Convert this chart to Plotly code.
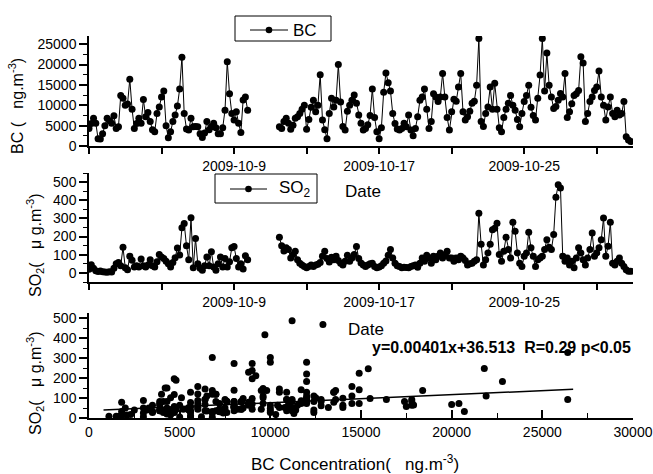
import pandas as pd
import plotly.graph_objects as go

# ---------------- data (3-hourly, 2009-10-01 00:00 .. 2009-10-31 21:00) ----------------
START = "2009-10-01 00:00"
N_STEPS = 248
GAP = [None] * 13

bc = [
    4300, 5500, 6800, 5600, 1800, 1700, 3000, 5000,
    6800, 6200, 5600, 7400, 4300, 4700, 12400, 11700,
    10000, 10300, 16400, 9000, 4300, 5500, 6800, 5600,
    11400, 7200, 8200, 6000, 4000, 3500, 8000, 9600,
    12000, 13500, 5000, 2000, 3500, 6000, 7600, 9800,
    14000, 21800, 8000, 4200, 3900, 6800, 4700, 4800,
    4700, 3000, 2100, 3200, 6000, 4000, 4700, 5600,
    4500, 3000, 3000, 4500, 8800, 20700, 12800, 8000,
    6400, 8400, 5600, 3300, 11300, 12000, 8800,
] + GAP + [
    4700, 4300, 6000, 6800,
    5600, 4100, 5100, 6800, 7200, 8000, 9000, 10000,
    4100, 6500, 9500, 11200, 8400, 10000, 17500, 6400,
    4000, 1800, 8000, 11700, 9600, 11200, 20000, 10800,
    4800, 3900, 8500, 10000, 11200, 12500, 10500, 7600,
    5600, 3900, 4300, 5200, 7500, 14000, 7000, 3500,
    1800, 4500, 13200, 17900, 15500, 13500, 8000, 5500,
    4200, 3900, 4300, 5600, 4700, 7600, 3900, 2500,
    4300, 7200, 11200, 12000, 14000, 9000, 4300, 6000,
    12800, 12000, 10900, 12000, 17800, 12000, 7000, 3900,
    8400, 11500, 11000, 14500, 17800, 8400, 6400, 7200,
    8500, 10500, 11000, 14900, 26400, 6000, 4800, 8000,
    9600, 14500, 9000, 15400, 9000, 4500, 3500, 7000,
    9000, 10500, 12400, 10000, 8800, 6500, 4700, 8000,
    10900, 12400, 14900, 9500, 7500, 6400, 11700, 17400,
    26400, 13500, 22800, 14900, 12000, 9200, 9700, 11200,
    12900, 12000, 17800, 7000, 8400, 10400, 12400, 12800,
    13600, 21900, 20400, 6000, 8000, 10900, 12000, 13600,
    14500, 18400, 12000, 10000, 6400, 9600, 12000, 8000,
    7200, 8800, 7600, 8000, 10900, 2300, 1500, 1100,
]

so2 = [
    20, 45, 25, 12, 8, 10, 6, 5,
    4, 6, 5, 25, 50, 58, 40, 141,
    28, 17, 92, 70, 33, 40, 33, 77,
    40, 33, 44, 73, 40, 33, 61, 101,
    88, 79, 64, 50, 33, 57, 84, 137,
    99, 248, 272, 150, 72, 303, 28, 189,
    50, 25, 15, 40, 88, 40, 117, 33,
    15, 50, 88, 33, 79, 33, 61, 139,
    145, 79, 33, 50, 22, 95, 72,
] + GAP + [
    196, 150, 120, 138,
    129, 82, 101, 119, 72, 53, 44, 36,
    28, 35, 44, 36, 44, 48, 57, 92,
    119, 79, 60, 86, 72, 92, 68, 53,
    44, 64, 97, 64, 82, 101, 145, 80,
    55, 44, 36, 44, 50, 53, 36, 28,
    32, 40, 53, 65, 97, 129, 82, 53,
    40, 36, 28, 31, 30, 28, 36, 40,
    44, 31, 53, 82, 64, 97, 82, 53,
    92, 72, 92, 110, 82, 100, 119, 82,
    82, 64, 82, 72, 92, 82, 68, 44,
    50, 53, 64, 72, 328, 158, 44, 72,
    110, 158, 237, 246, 273, 101, 64, 119,
    196, 129, 82, 279, 229, 110, 53, 36,
    92, 110, 224, 138, 92, 36, 72, 82,
    92, 129, 183, 141, 129, 211, 416, 486,
    468, 92, 64, 82, 44, 64, 28, 82,
    138, 110, 72, 44, 82, 129, 220, 92,
    110, 138, 183, 302, 92, 147, 279, 53,
    44, 64, 82, 53, 36, 18, 9, 9,
]

# linear fit stated on the chart
FIT_SLOPE = 0.00401
FIT_INTERCEPT = 36.513
FIT_X = [800, 26700]
EQUATION = "y=0.00401x+36.513  R=0.29 p&lt;0.05"

DATE_LABEL_TICKS = ["2009-10-09", "2009-10-17", "2009-10-25"]
DATE_TICKTEXT = ["2009-10-9", "2009-10-17", "2009-10-25"]
DATE_RANGE = ["2009-10-01", "2009-10-31"]
BC_TICKS = [0, 5000, 10000, 15000, 20000, 25000]
SO2_TICKS = [0, 100, 200, 300, 400, 500]
BCX_TICKS = [0, 5000, 10000, 15000, 20000, 25000, 30000]

# ---------------------------------------------------------------------------------------
times = pd.date_range(START, periods=N_STEPS, freq="3h")
pairs = [(b, s) for b, s in zip(bc, so2) if b is not None and s is not None]
sc_x = [p[0] for p in pairs]
sc_y = [p[1] for p in pairs]
fit_y = [FIT_SLOPE * x + FIT_INTERCEPT for x in FIT_X]

FONT = "Arial, 'Liberation Sans', sans-serif"
W, H = 653, 474
MS = 7


def px_x(p):
    return p / W


def px_y(p):
    return 1 - p / H


fig = go.Figure()
fig.add_trace(go.Scatter(
    x=times, y=bc, mode="lines+markers", name="BC", showlegend=False,
    line=dict(color="black", width=1), marker=dict(color="black", size=MS),
    connectgaps=False, xaxis="x", yaxis="y"))
fig.add_trace(go.Scatter(
    x=times, y=so2, mode="lines+markers", name="SO<sub>2</sub>", showlegend=False,
    line=dict(color="black", width=1), marker=dict(color="black", size=MS),
    connectgaps=False, xaxis="x2", yaxis="y2"))
fig.add_trace(go.Scatter(
    x=sc_x, y=sc_y, mode="markers", showlegend=False,
    marker=dict(color="black", size=MS), xaxis="x3", yaxis="y3"))
fig.add_trace(go.Scatter(
    x=FIT_X, y=fit_y, mode="lines", showlegend=False,
    line=dict(color="black", width=1.5), xaxis="x3", yaxis="y3"))

xdom = [px_x(89), px_x(633)]
base = dict(showline=True, linecolor="black", linewidth=1.5, showgrid=False,
            zeroline=False, tickcolor="black", tickwidth=1.5, automargin=False,
            tickfont=dict(family=FONT, size=14, color="black"))
yfont = dict(family=FONT, size=14, color="black")
minor_y = dict(ticks="outside", ticklen=4, tickcolor="black", tickwidth=1.2, showgrid=False)
minor_date = dict(ticks="outside", ticklen=6, tickcolor="black", tickwidth=1.5,
                  showgrid=False, tick0="2009-10-01", dtick=4 * 86400000)


def date_axis(anchor):
    d = dict(base)
    d.update(domain=xdom, anchor=anchor, type="date", range=DATE_RANGE,
             tickmode="array", tickvals=DATE_LABEL_TICKS, ticktext=DATE_TICKTEXT,
             ticks="outside", ticklen=6, minor=minor_date)
    return d


def value_axis(anchor, dom, rng, vals, mdt):
    d = dict(base)
    d.update(domain=dom, anchor=anchor, range=rng, tickmode="array", tickvals=vals,
             ticktext=[str(v) for v in vals], ticks="outside", ticklen=8,
             minor=dict(dtick=mdt, **minor_y), tickfont=yfont)
    return d


xaxis3 = dict(base)
xaxis3.update(domain=xdom, anchor="y3", range=[0, 30000], tickmode="array",
              tickvals=BCX_TICKS, ticktext=[str(v) for v in BCX_TICKS],
              ticks="inside", ticklen=8,
              minor=dict(dtick=2500, ticks="inside", ticklen=5, tickcolor="black",
                         tickwidth=1.2))

fig.update_layout(
    width=W, height=H, margin=dict(l=0, r=0, t=0, b=0),
    paper_bgcolor="white", plot_bgcolor="white",
    font=dict(family=FONT, color="black"), showlegend=False,
    xaxis=date_axis("y"),
    yaxis=value_axis("x", [px_y(146), px_y(36)], [0, 27000], BC_TICKS, 2500),
    xaxis2=date_axis("y2"),
    yaxis2=value_axis("x2", [px_y(282), px_y(173)], [-50, 550], SO2_TICKS, 50),
    xaxis3=xaxis3,
    yaxis3=value_axis("x3", [px_y(418), px_y(313)], [0, 525], SO2_TICKS, 50),
)

# ---- legend boxes (drawn) ----
shapes = []
ann = []


def legend_box(x0, x1, y0, y1, lx0, lx1, ly, label, tx):
    shapes.append(dict(type="rect", xref="paper", yref="paper",
                       x0=px_x(x0), x1=px_x(x1), y0=px_y(y1), y1=px_y(y0),
                       line=dict(color="black", width=1), fillcolor="white"))
    shapes.append(dict(type="line", xref="paper", yref="paper",
                       x0=px_x(lx0), x1=px_x(lx1), y0=px_y(ly), y1=px_y(ly),
                       line=dict(color="black", width=1)))
    cx = (lx0 + lx1) / 2
    r = 3.3
    shapes.append(dict(type="circle", xref="paper", yref="paper",
                       x0=px_x(cx - r), x1=px_x(cx + r), y0=px_y(ly + r), y1=px_y(ly - r),
                       line=dict(color="black", width=0), fillcolor="black"))
    ann.append(dict(text=label, x=px_x(tx), y=px_y(ly), xanchor="left", font=dict(size=17)))


legend_box(235, 331, 16, 41, 250, 288, 30, "BC", 291)
legend_box(215, 317, 174, 203, 230, 267, 189, "SO<sub>2</sub>", 277)

ann.append(dict(text="BC (   ng.m<sup>-3</sup>)", x=px_x(16), y=px_y(106), textangle=-90,
                font=dict(size=16)))
ann.append(dict(text="SO<sub>2</sub>(   μ g.m<sup>-3</sup>)", x=px_x(35), y=px_y(245),
                textangle=-90, font=dict(size=16)))
ann.append(dict(text="SO<sub>2</sub>(   μ g.m<sup>-3</sup>)", x=px_x(35), y=px_y(383),
                textangle=-90, font=dict(size=16)))
ann.append(dict(text="Date", x=px_x(343), y=px_y(192), xanchor="left", font=dict(size=17)))
ann.append(dict(text="Date", x=px_x(346), y=px_y(329), xanchor="left", font=dict(size=17)))
ann.append(dict(text="<b>" + EQUATION + "</b>", x=px_x(633), y=px_y(347),
                xanchor="right", font=dict(size=16)))
ann.append(dict(text="BC Concentration(   ng.m<sup>-3</sup>)", x=px_x(355), y=px_y(463),
                font=dict(size=17)))
for a in ann:
    a.update(xref="paper", yref="paper", showarrow=False, yanchor="middle")
    a["font"].update(family=FONT, color="black")
    a.setdefault("xanchor", "center")

fig.update_layout(shapes=shapes, annotations=ann)
fig.write_html("out.html")
